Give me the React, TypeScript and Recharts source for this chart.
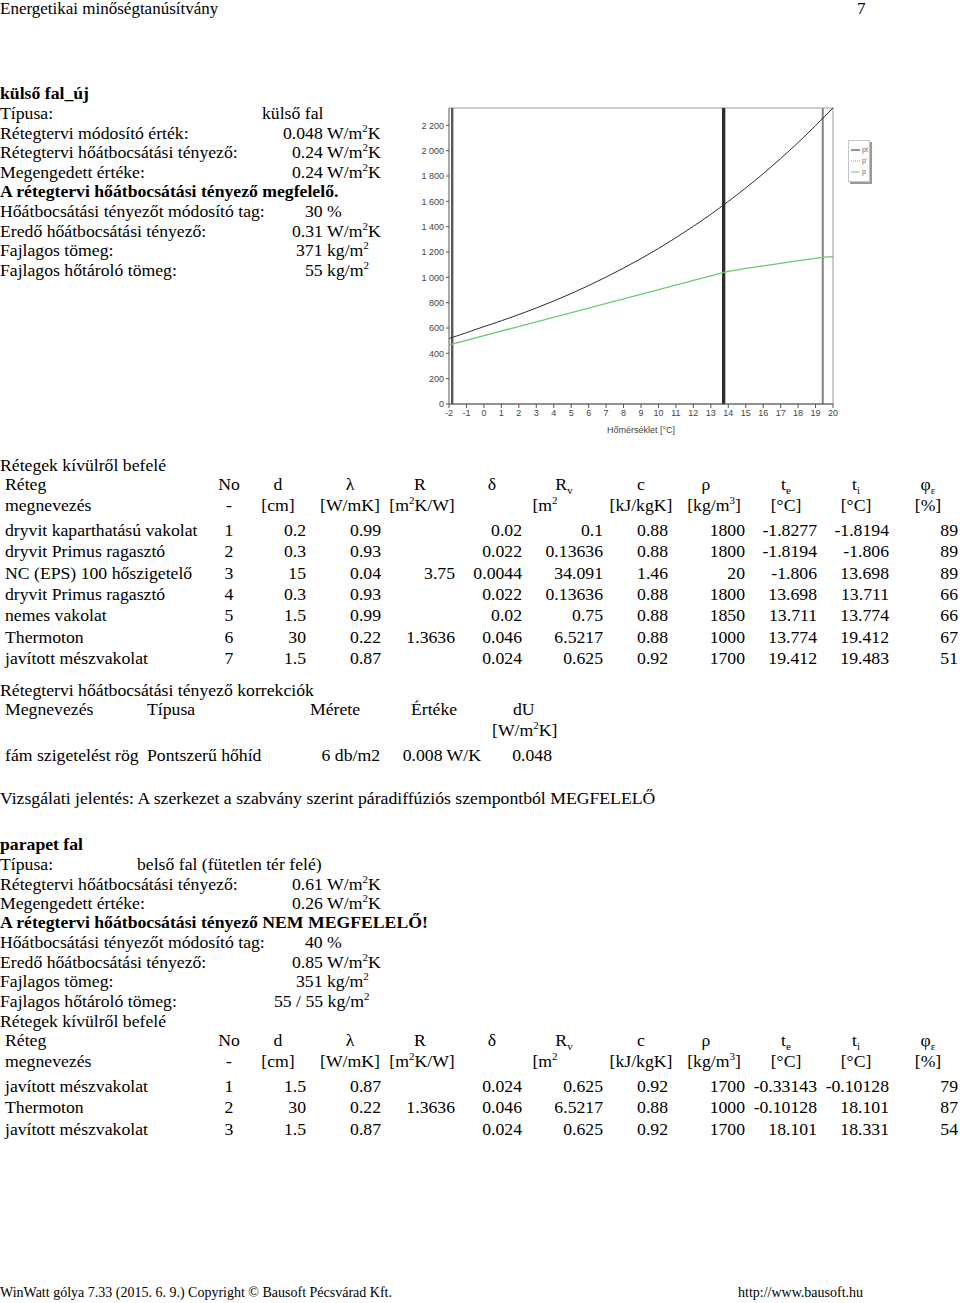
import React from "react";
import {
  LineChart,
  Line,
  XAxis,
  YAxis,
  ReferenceLine,
  ReferenceArea,
} from "recharts";

// chart values
const tempTicks = [-2, -1, 0, 1, 2, 3, 4, 5, 6, 7, 8, 9, 10, 11, 12, 13, 14, 15, 16, 17, 18, 19, 20];
const pressureTicks = [0, 200, 400, 600, 800, 1000, 1200, 1400, 1600, 1800, 2000, 2200];
const ptTemps = [-2, -1, 0, 1, 2, 3, 4, 5, 6, 7, 8, 9, 10, 11, 12, 13, 14, 15, 16, 17, 18, 19, 20];
const ptValues = [517, 563, 611, 657, 706, 758, 813, 872, 935, 1002, 1073, 1148, 1228, 1313, 1403, 1498, 1599, 1706, 1818, 1938, 2064, 2198, 2337];
const pTemps = [-2, -1.8277, 13.698, 13.774, 15, 16, 17, 18, 19.412, 19.483, 20];
const pValues = [469, 473, 1038, 1042, 1070, 1090, 1111, 1132, 1158, 1160, 1163];
const boundaries = [-1.8277, -1.806, 13.698, 13.774, 19.412];
const boundaryColors = ["#5a5a5a", "#5a5a5a", "#2e2e2e", "#2e2e2e", "#808080"];
const legendNames = ["pt", "p'", "p"];

const ptData = ptTemps.map((t, i) => ({ t, v: ptValues[i] }));
const pData = pTemps.map((t, i) => ({ t, v: pValues[i] }));
const minorTicks: number[] = [];
for (let t = -2; t <= 20.001; t += 0.25) minorTicks.push(Math.round(t * 100) / 100);

// page texts
const block1 = [
  ["Típusa:", "külső fal", 262],
  ["Rétegtervi módosító érték:", "0.048 W/m²K", 283],
  ["Rétegtervi hőátbocsátási tényező:", "0.24 W/m²K", 292],
  ["Megengedett értéke:", "0.24 W/m²K", 292],
];
const block1b = [
  ["Hőátbocsátási tényezőt módosító tag:", "30 %", 305],
  ["Eredő hőátbocsátási tényező:", "0.31 W/m²K", 292],
  ["Fajlagos tömeg:", "371 kg/m²", 296],
  ["Fajlagos hőtároló tömeg:", "55 kg/m²", 305],
];
const block2 = [
  ["Típusa:", "belső fal (fütetlen tér felé)", 137],
  ["Rétegtervi hőátbocsátási tényező:", "0.61 W/m²K", 292],
  ["Megengedett értéke:", "0.26 W/m²K", 292],
];
const block2b = [
  ["Hőátbocsátási tényezőt módosító tag:", "40 %", 305],
  ["Eredő hőátbocsátási tényező:", "0.85 W/m²K", 292],
  ["Fajlagos tömeg:", "351 kg/m²", 296],
  ["Fajlagos hőtároló tömeg:", "55 / 55 kg/m²", 274],
];
const layers1 = [
  ["dryvit kaparthatású vakolat", "1", "0.2", "0.99", "", "0.02", "0.1", "0.88", "1800", "-1.8277", "-1.8194", "89"],
  ["dryvit Primus ragasztó", "2", "0.3", "0.93", "", "0.022", "0.13636", "0.88", "1800", "-1.8194", "-1.806", "89"],
  ["NC (EPS) 100 hőszigetelő", "3", "15", "0.04", "3.75", "0.0044", "34.091", "1.46", "20", "-1.806", "13.698", "89"],
  ["dryvit Primus ragasztó", "4", "0.3", "0.93", "", "0.022", "0.13636", "0.88", "1800", "13.698", "13.711", "66"],
  ["nemes vakolat", "5", "1.5", "0.99", "", "0.02", "0.75", "0.88", "1850", "13.711", "13.774", "66"],
  ["Thermoton", "6", "30", "0.22", "1.3636", "0.046", "6.5217", "0.88", "1000", "13.774", "19.412", "67"],
  ["javított mészvakolat", "7", "1.5", "0.87", "", "0.024", "0.625", "0.92", "1700", "19.412", "19.483", "51"],
];
const layers2 = [
  ["javított mészvakolat", "1", "1.5", "0.87", "", "0.024", "0.625", "0.92", "1700", "-0.33143", "-0.10128", "79"],
  ["Thermoton", "2", "30", "0.22", "1.3636", "0.046", "6.5217", "0.88", "1000", "-0.10128", "18.101", "87"],
  ["javított mészvakolat", "3", "1.5", "0.87", "", "0.024", "0.625", "0.92", "1700", "18.101", "18.331", "54"],
];
const colRight = [0, 229, 306, 381, 455, 522, 603, 668, 745, 817, 889, 958];
const headCenters = [229, 278, 350, 420, 492, 564, 641, 706, 786, 856, 928];

const FONT = "'Liberation Serif', 'Times New Roman', serif";
const FS = 17.7;

function T({ x, y, children, bold, align, size }: any) {
  const shift = align === "right" ? "translateX(-100%)" : align === "center" ? "translateX(-50%)" : "none";
  return (
    <div
      style={{
        position: "absolute",
        left: x,
        top: y - 11,
        lineHeight: "22px",
        fontSize: size || FS,
        fontWeight: bold ? "bold" : "normal",
        whiteSpace: "nowrap",
        transform: shift,
      }}
    >
      {children}
    </div>
  );
}

// raised small glyph that doesn't push the line box
function Up({ children }: any) {
  return <span style={{ fontSize: 11, position: "relative", top: -7 }}>{children}</span>;
}
function Down({ children }: any) {
  return <span style={{ fontSize: 11, position: "relative", top: 4 }}>{children}</span>;
}

function withSup(s: string) {
  if (!s.includes("²")) return s;
  const [a, b] = s.split("²");
  return (
    <>
      {a}
      <Up>2</Up>
      {b}
    </>
  );
}

function InfoRows({ rows, y0 }: any) {
  return rows.map((r: any, i: number) => (
    <React.Fragment key={i}>
      <T x={0} y={y0 + i * 19.7}>{r[0]}</T>
      <T x={r[2]} y={y0 + i * 19.7}>{withSup(r[1])}</T>
    </React.Fragment>
  ));
}

function LayerTable({ rows, y0 }: any) {
  const heads = ["No", "d", "λ", "R", "δ", <>R<Down>v</Down></>, "c", "ρ", <>t<Down>e</Down></>, <>t<Down>i</Down></>, <>φ<Down>ε</Down></>];
  const units = ["-", "[cm]", "[W/mK]", <>[m<Up>2</Up>K/W]</>, "", <>[m<Up>2</Up></>, "[kJ/kgK]", <>[kg/m<Up>3</Up>]</>, "[°C]", "[°C]", "[%]"];
  const unitX = [229, 278, 350, 422, 492, 545, 641, 714, 786, 856, 928];
  return (
    <>
      <T x={5} y={y0}>Réteg</T>
      <T x={5} y={y0 + 21}>megnevezés</T>
      {heads.map((h, i) => (
        <T key={"h" + i} x={headCenters[i]} y={y0} align="center">{h}</T>
      ))}
      {units.map((u, i) => (
        <T key={"u" + i} x={unitX[i]} y={y0 + 21} align="center">{u}</T>
      ))}
      {rows.map((r: string[], ri: number) =>
        r.map((c, ci) =>
          ci === 0 ? (
            <T key={ri + "-" + ci} x={5} y={y0 + 46 + ri * 21.3}>{c}</T>
          ) : ci === 1 ? (
            <T key={ri + "-" + ci} x={colRight[1]} y={y0 + 46 + ri * 21.3} align="center">{c}</T>
          ) : (
            <T key={ri + "-" + ci} x={colRight[ci]} y={y0 + 46 + ri * 21.3} align="right">{c}</T>
          )
        )
      )}
    </>
  );
}

function LegendBox() {
  const styles = [
    { stroke: "#2a2a3a", dash: undefined },
    { stroke: "#6a9fd8", dash: "1 1" },
    { stroke: "#6cc86c", dash: undefined },
  ];
  return (
    <div
      style={{
        position: "absolute",
        left: 848,
        top: 140,
        width: 22,
        height: 42,
        border: "1px solid #c4c4c4",
        boxShadow: "2px 2px 0 #9a9a9a",
        background: "#fff",
        fontFamily: "'Liberation Sans Narrow', 'Liberation Sans', sans-serif",
        fontSize: 7,
        color: "#666",
        paddingTop: 3,
        boxSizing: "border-box",
      }}
    >
      {legendNames.map((n, i) => (
        <div key={n} style={{ display: "flex", alignItems: "center", height: 11 }}>
          <svg width={10} height={4} style={{ marginLeft: 2 }}>
            <line x1={0} y1={2} x2={9} y2={2} stroke={styles[i].stroke} strokeWidth={1} strokeDasharray={styles[i].dash} />
          </svg>
          <span style={{ marginLeft: 1 }}>{n}</span>
        </div>
      ))}
    </div>
  );
}

const tickFont = { fontSize: 9, fill: "#444", fontFamily: "'Liberation Sans Narrow', 'Liberation Sans', sans-serif" };

function Chart() {
  return (
    <div style={{ position: "absolute", left: 400, top: 100 }}>
      <LineChart width={480} height={345} margin={{ top: 8, right: 47, left: 9, bottom: 0 }}>
        <XAxis
          xAxisId="minor"
          dataKey="t"
          type="number"
          domain={[-2, 20]}
          ticks={minorTicks}
          tick={false}
          tickSize={2}
          axisLine={false}
          tickLine={{ stroke: "#777" }}
          height={0}
        />
        <XAxis
          dataKey="t"
          type="number"
          domain={[-2, 20]}
          ticks={tempTicks}
          interval={0}
          tick={tickFont}
          tickSize={4}
          tickLine={{ stroke: "#555" }}
          axisLine={{ stroke: "#555" }}
          height={41}
          label={{ value: "Hőmérséklet [°C]", position: "insideBottom", offset: 12, style: tickFont }}
        />
        <YAxis
          dataKey="v"
          type="number"
          domain={[0, 2337]}
          ticks={pressureTicks}
          interval={0}
          tick={tickFont}
          tickSize={3}
          tickLine={{ stroke: "#555" }}
          axisLine={{ stroke: "#888" }}
          width={40}
          tickFormatter={(v: number) => (v >= 1000 ? `${Math.floor(v / 1000)} ${String(v % 1000).padStart(3, "0")}` : String(v))}
        />
        <ReferenceArea x1={-2} x2={20} y1={0} y2={2337} fill="none" stroke="#999" strokeWidth={1} />
        {boundaries.map((b, i) => (
          <ReferenceLine key={i} x={b} stroke={boundaryColors[i]} strokeWidth={2} />
        ))}
        <Line data={pData} dataKey="v" type="linear" stroke="#6cc86c" strokeWidth={1.3} dot={false} isAnimationActive={false} />
        <Line data={ptData} dataKey="v" type="monotone" stroke="#2a2a3a" strokeWidth={1} dot={false} isAnimationActive={false} />
      </LineChart>
    </div>
  );
}

export default function App() {
  return (
    <div
      style={{
        position: "absolute",
        left: 0,
        top: 0,
        width: 960,
        height: 1303,
        background: "#fff",
        fontFamily: FONT,
        color: "#000",
        overflow: "hidden",
      }}
    >
      <div style={{ position: "absolute", left: 0, top: 0, fontSize: 17, lineHeight: "18px", whiteSpace: "nowrap" }}>
        Energetikai minőségtanúsítvány
      </div>
      <div style={{ position: "absolute", left: 857, top: 0, fontSize: 17, lineHeight: "18px" }}>7</div>

      <T x={0} y={93} bold>külső fal_új</T>
      <InfoRows rows={block1} y0={113} />
      <T x={0} y={191} bold>A rétegtervi hőátbocsátási tényező megfelelő.</T>
      <InfoRows rows={block1b} y0={211} />

      <Chart />
      <LegendBox />

      <T x={0} y={465}>Rétegek kívülről befelé</T>
      <LayerTable rows={layers1} y0={484} />

      <T x={0} y={690}>Rétegtervi hőátbocsátási tényező korrekciók</T>
      <T x={5} y={709}>Megnevezés</T>
      <T x={147} y={709}>Típusa</T>
      <T x={310} y={709}>Mérete</T>
      <T x={411} y={709}>Értéke</T>
      <T x={513} y={709}>dU</T>
      <T x={492} y={730}>[W/m<Up>2</Up>K]</T>
      <T x={5} y={755}>fám szigetelést rög</T>
      <T x={147} y={755}>Pontszerű hőhíd</T>
      <T x={380} y={755} align="right">6 db/m2</T>
      <T x={481} y={755} align="right">0.008 W/K</T>
      <T x={552} y={755} align="right">0.048</T>

      <T x={0} y={798}>Vizsgálati jelentés: A szerkezet a szabvány szerint páradiffúziós szempontból MEGFELELŐ</T>

      <T x={0} y={844} bold>parapet fal</T>
      <InfoRows rows={block2} y0={864} />
      <T x={0} y={922} bold>A rétegtervi hőátbocsátási tényező NEM MEGFELELŐ!</T>
      <InfoRows rows={block2b} y0={942} />
      <T x={0} y={1021}>Rétegek kívülről befelé</T>
      <LayerTable rows={layers2} y0={1040} />

      <T x={0} y={1293} size={14}>WinWatt gólya 7.33 (2015. 6. 9.) Copyright © Bausoft Pécsvárad Kft.</T>
      <T x={738} y={1293} size={14}>http://www.bausoft.hu</T>
    </div>
  );
}
